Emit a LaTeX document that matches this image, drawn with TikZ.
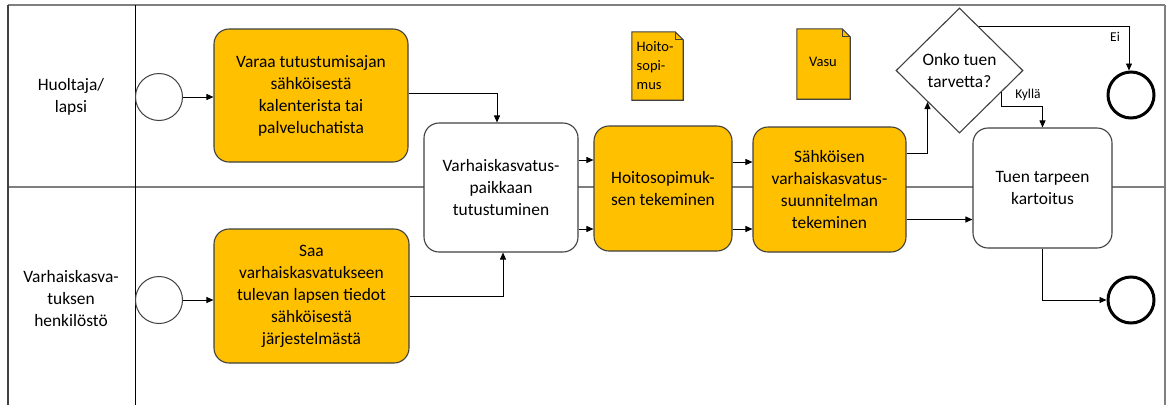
\documentclass[tikz,border=0pt]{standalone}
\usepackage{fontspec}
\setmainfont{Carlito}
\usetikzlibrary{arrows.meta,shapes.geometric,calc}
\definecolor{gold}{HTML}{FFC000}
\definecolor{edge}{HTML}{404040}
\definecolor{poolgray}{HTML}{7F7F7F}
\begin{document}
\begin{tikzpicture}[x=1pt,y=-1pt,
  every node/.style={font=\fontsize{17.4}{22}\selectfont},
  task/.style={draw=edge, line width=1.1pt, rounded corners=15pt, align=center, inner sep=2pt},
  goldtask/.style={task, fill=gold},
  whitetask/.style={task, fill=white},
  startev/.style={circle, draw=edge, line width=1pt, fill=white, minimum size=47pt, inner sep=0pt},
  endev/.style={circle, draw=black, line width=3pt, fill=white, minimum size=46pt, inner sep=0pt},
  gate/.style={diamond, draw=edge, line width=1.1pt, fill=white, minimum width=127pt, minimum height=125pt, inner sep=0pt, align=center},
  flow/.style={draw=black, line width=0.9pt, -{Triangle[length=7pt,width=6pt]}},
  small/.style={font=\fontsize{13.5}{15}\selectfont, inner sep=0pt},
  doclabel/.style={font=\fontsize{14.5}{19}\selectfont, inner sep=0pt},
  docshape/.style={fill=gold, draw=edge, line width=1.1pt},
  pool/.style={draw=poolgray, line width=2pt},
  lanelabel/.style={align=center},
]
\useasboundingbox (0,0) rectangle (1173,405);

% pool and lanes
\draw[pool] (8,5) -- (1165,5);
\draw[pool] (8,187) -- (1165,187);
\draw[pool] (1165,5) -- (1165,405);
\draw[draw=edge, line width=1.5pt] (8,5) -- (8,405);
\draw[draw=black, line width=1pt] (135,5) -- (135,405);

\node[lanelabel] (lane1) at (71,97) {Huoltaja/\\lapsi};
\node[lanelabel] (lane2) at (71,299) {Varhaiskasva-\\tuksen\\henkilöstö};

% events
\node[startev] (s1) at (159,97) {};
\node[startev] (s2) at (159,300) {};
\node[endev] (e1) at (1131,95) {};
\node[endev] (e2) at (1131,300) {};

% tasks
\node[goldtask, minimum width=194pt, minimum height=133pt] (t1) at (311,95.5)
  {Varaa tutustumisajan\\sähköisestä\\kalenterista tai\\palveluchatista};
\node[goldtask, minimum width=195pt, minimum height=134pt] (t2) at (311.5,296)
  {Saa\\varhaiskasvatukseen\\tulevan lapsen tiedot\\sähköisestä\\järjestelmästä};
\node[whitetask, minimum width=154pt, minimum height=129pt] (v) at (501,187.5)
  {Varhaiskasvatus-\\paikkaan\\tutustuminen};
\node[goldtask, minimum width=138pt, minimum height=125pt] (h) at (663,188.5)
  {Hoitosopimuk-\\sen tekeminen};
\node[goldtask, minimum width=153pt, minimum height=125pt] (sk) at (829.5,189.5)
  {Sähköisen\\varhaiskasvatus-\\suunnitelman\\tekeminen};
\node[whitetask, minimum width=139pt, minimum height=120pt] (tu) at (1042.5,188)
  {Tuen tarpeen\\kartoitus};

% gateway
\node[gate] (d) at (959.5,70.5) {Onko tuen\\tarvetta?};

% data objects
\node[minimum width=51pt, minimum height=68pt, inner sep=0pt] (doc1) at (657.5,66) {};
\filldraw[docshape] (doc1.north west) -- ([xshift=-8pt]doc1.north east)
  -- ([yshift=-8pt]doc1.north east) -- (doc1.south east) -- (doc1.south west) -- cycle;
\draw[draw=edge, line width=0.8pt] ([xshift=-8pt]doc1.north east) -- ([xshift=-8pt,yshift=-8pt]doc1.north east) -- ([yshift=-8pt]doc1.north east);
\node[doclabel, align=left, anchor=west] (doc1t) at (636.5,66) {Hoito-\\sopi-\\mus};

\node[minimum width=53pt, minimum height=70pt, inner sep=0pt] (doc2) at (823.5,64) {};
\filldraw[docshape] (doc2.north west) -- ([xshift=-8pt]doc2.north east)
  -- ([yshift=-8pt]doc2.north east) -- (doc2.south east) -- (doc2.south west) -- cycle;
\draw[draw=edge, line width=0.8pt] ([xshift=-8pt]doc2.north east) -- ([xshift=-8pt,yshift=-8pt]doc2.north east) -- ([yshift=-8pt]doc2.north east);
\node[doclabel] (doc2t) at (823,62) {Vasu};

% sequence flows
\draw[flow] (s1.east) -- (s1.east -| t1.west);
\draw[flow] (s2.east) -- (s2.east -| t2.west);
\draw[flow] ([yshift=2pt]t1.east) -| ([xshift=-4pt]v.north);
\draw[flow] (t2.east) -| ([xshift=2pt]v.south);
\draw[flow] ([yshift=27.5pt]v.east) -- ([yshift=27.5pt]v.east -| h.west);
\draw[flow] ([yshift=-41.5pt]v.east) -- ([yshift=-41.5pt]v.east -| h.west);
\draw[flow] ([yshift=26.5pt]h.east) -- ([yshift=26.5pt]h.east -| sk.west);
\draw[flow] ([yshift=-40.5pt]h.east) -- ([yshift=-40.5pt]h.east -| sk.west);
\draw[flow] ([yshift=36.5pt]sk.east) -| (d.south west);
\draw[flow] ([yshift=-30pt]sk.east) -- ([yshift=-30pt]sk.east -| tu.west);
\coordinate (dno) at ($(d.north)!0.3!(d.east)$);
\coordinate (dyes) at ($(d.south)!0.66!(d.east)$);
\draw[flow] (dno) -| ([xshift=-2pt]e1.north);
\draw[flow] (dyes) |- ([yshift=21pt]tu.north) -- (tu.north);
\draw[flow] (tu.south) |- (e2.west);

% flow labels
\node[small] (lno) at (1115,37) {Ei};
\node[small] (lyes) at (1028,95) {Kyllä};
\end{tikzpicture}
\end{document}
